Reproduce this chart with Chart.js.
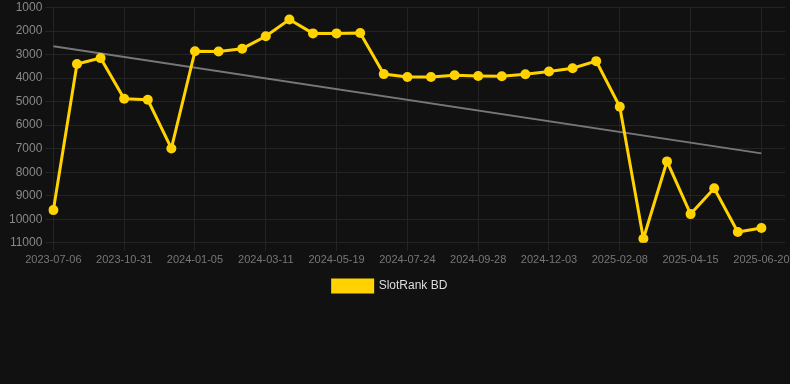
<!DOCTYPE html>
<html>
<head>
<meta charset="utf-8">
<script src="https://cdn.jsdelivr.net/npm/chart.js@4/dist/chart.umd.min.js"></script>
<style>
  html, body { margin: 0; padding: 0; background: #111111; }
  #wrap { position: relative; width: 790px; height: 302px; }
</style>
</head>
<body>
<div id="wrap"><canvas id="c"></canvas></div>
<script>
const dates = [
  "2023-07-06","2023-08-25","2023-10-09","2023-10-31","2023-11-22","2023-12-14",
  "2024-01-05","2024-01-27","2024-02-18","2024-03-11","2024-04-02","2024-04-24",
  "2024-05-19","2024-06-10","2024-07-02","2024-07-24","2024-08-15","2024-09-06",
  "2024-09-28","2024-10-20","2024-11-11","2024-12-03","2024-12-25","2025-01-17",
  "2025-02-08","2025-03-02","2025-03-24","2025-04-15","2025-05-07","2025-05-29",
  "2025-06-20","2025-07-12"
];
const rankValues = [
  9610, 3400, 3150, 4880, 4920, 6990,
  2860, 2870, 2750, 2220, 1510, 2100,
  2100, 2080, 3830, 3950, 3950, 3880,
  3910, 3920, 3840, 3720, 3580, 3280,
  5220, 10830, 7540, 9780, 8680, 10540,
  10370, null
];
const trendEnds = [2650, 7200];   // trend line value at first and last data point
const yTicks = [1000, 2000, 3000, 4000, 5000, 6000, 7000, 8000, 9000, 10000, 11000];
const seriesName = "SlotRank BD";

const lastIdx = rankValues.reduce((a, v, i) => v !== null ? i : a, 0);
const trendData = dates.map((d, i) => i === 0 ? trendEnds[0] : (i === lastIdx ? trendEnds[1] : null));

const gridShown = (ctx) => (ctx.index % 3 === 0 && ctx.index <= lastIdx) ? '#242424' : 'rgba(0,0,0,0)';

const legendShift = {
  id: 'legendShift',
  afterLayout(chart) {
    const lg = chart.legend;
    if (!lg) return;
    const shift = (lg.left + lg.right) / 2 - 390;
    lg.left -= shift;
    lg.right -= shift;
  }
};

new Chart(document.getElementById('c'), {
  type: 'line',
  plugins: [legendShift],
  data: {
    labels: dates,
    datasets: [
      {
        label: seriesName,
        data: rankValues,
        borderColor: '#FFD200',
        backgroundColor: '#FFD200',
        borderWidth: 3,
        pointRadius: 5,
        pointHoverRadius: 5,
        pointBackgroundColor: '#FFD200',
        pointBorderWidth: 0,
        tension: 0
      },
      {
        label: 'trend',
        data: trendData,
        borderColor: '#777777',
        borderWidth: 2,
        pointRadius: 0,
        spanGaps: true,
        tension: 0
      }
    ]
  },
  options: {
    responsive: true,
    maintainAspectRatio: false,
    animation: false,
    layout: { padding: { top: 0, right: 0, left: 6, bottom: 0 } },
    plugins: {
      legend: {
        position: 'bottom',
        labels: {
          color: '#dddddd',
          font: { family: 'Arial, "Liberation Sans", sans-serif', size: 12 },
          boxWidth: 40,
          boxHeight: 12,
          filter: (item) => item.text === seriesName
        }
      },
      tooltip: { enabled: false }
    },
    scales: {
      x: {
        type: 'category',
        offset: false,
        grid: { color: gridShown, tickColor: gridShown, tickLength: 8 },
        border: { display: false },
        ticks: {
          autoSkip: false,
          maxRotation: 0,
          color: '#777777',
          font: { family: 'Arial, "Liberation Sans", sans-serif', size: 11 },
          callback: function(val, i) { return (i % 3 === 0 && i <= lastIdx) ? this.getLabelForValue(val) : ''; }
        }
      },
      y: {
        reverse: true,
        min: yTicks[0],
        max: yTicks[yTicks.length - 1],
        afterBuildTicks: (axis) => { axis.ticks = yTicks.map(v => ({ value: v })); },
        grid: { color: '#242424', tickColor: '#242424', tickLength: 8 },
        border: { display: false },
        ticks: {
          color: '#888888',
          font: { family: 'Arial, "Liberation Sans", sans-serif', size: 12, lineHeight: 0.75 },
          callback: (v) => String(v)
        }
      }
    }
  }
});
</script>
</body>
</html>
